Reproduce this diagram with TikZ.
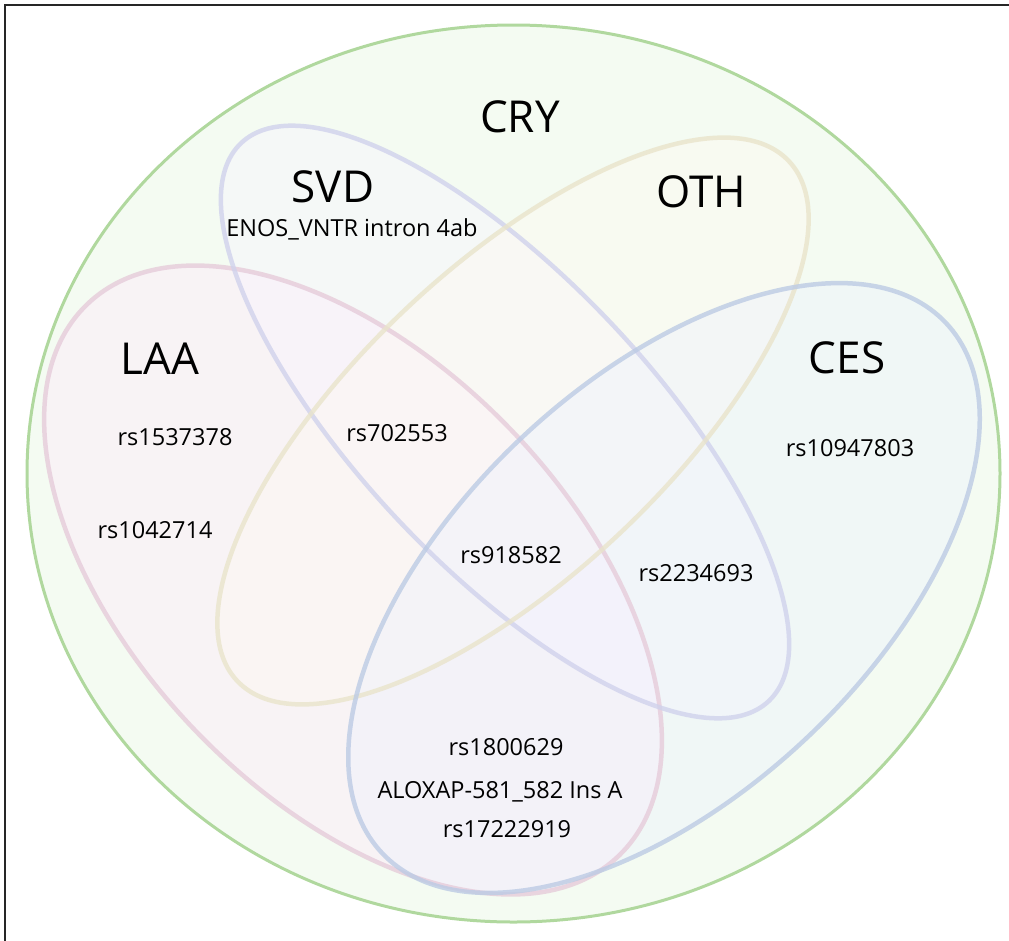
\documentclass[tikz,border=0pt]{standalone}
\usepackage{fontspec}
\setmainfont{Open Sans}
\definecolor{cryline}{RGB}{176,216,158}
\definecolor{cryfill}{RGB}{244,251,242}
\definecolor{laaline}{RGB}{230,204,218}
\definecolor{laafill}{RGB}{255,232,250}
\definecolor{svdline}{RGB}{208,210,236}
\definecolor{svdfill}{RGB}{248,244,255}
\definecolor{othline}{RGB}{233,228,203}
\definecolor{othfill}{RGB}{255,250,240}
\definecolor{cesline}{RGB}{188,203,228}
\definecolor{cesfill}{RGB}{236,242,254}
\begin{document}
\begin{tikzpicture}[x=1pt,y=-1pt,
	setlabel/.style={anchor=base, inner sep=0pt, font=\fontsize{44}{44}\selectfont},
	snplabel/.style={anchor=base, inner sep=0pt, font=\fontsize{23.5}{24}\selectfont},
	setline/.style={line width=4.5pt, draw opacity=0.8},
	setfill/.style={fill opacity=0.4}]
	\useasboundingbox (0,0) rectangle (1009,940);
	\clip (0,0) rectangle (1009,940);
	\draw[line width=2.5pt, black!85] (5,960) -- (5,5) -- (1030,5);
	\filldraw[fill=cryfill, draw=cryline, line width=3pt] (513.5,473.5) ellipse [x radius=486.5, y radius=448.5];
	\fill[laafill, setfill, rotate around={-46:(353,580)}]		(353,580) ellipse [x radius=383, y radius=218];
	\fill[svdfill, setfill, rotate around={-46.6:(505,422)}]	(505,422) ellipse [x radius=384, y radius=145];
	\fill[othfill, setfill, rotate around={43.3:(513,421)}]		(513,421) ellipse [x radius=379, y radius=155];
	\fill[cesfill, setfill, rotate around={43.2:(664,588)}]		(664,588) ellipse [x radius=387, y radius=207];
	\draw[laaline, setline, rotate around={-46:(353,580)}]		(353,580) ellipse [x radius=383, y radius=218];
	\draw[svdline, setline, rotate around={-46.6:(505,422)}]	(505,422) ellipse [x radius=384, y radius=145];
	\draw[othline, setline, rotate around={43.3:(513,421)}]		(513,421) ellipse [x radius=379, y radius=155];
	\draw[cesline, setline, rotate around={43.2:(664,588)}]		(664,588) ellipse [x radius=387, y radius=207];
	\node (CRY) at (520,132)	[setlabel]	{CRY};
	\node (SVD) at (333,202)	[setlabel]	{SVD};
	\node (OTH) at (701,207)	[setlabel]	{OTH};
	\node (LAA) at (160,374)	[setlabel]	{LAA};
	\node (CES) at (847,373)	[setlabel]	{CES};
	\node (enos) at (352,236)	[snplabel]	{ENOS\_VNTR intron 4ab};
	\node (rsA) at (175,445)	[snplabel]	{rs1537378};
	\node (rsB) at (155,538)	[snplabel]	{rs1042714};
	\node (rsC) at (397,441)	[snplabel]	{rs702553};
	\node (rsD) at (511,563)	[snplabel]	{rs918582};
	\node (rsE) at (696,581)	[snplabel]	{rs2234693};
	\node (rsF) at (850,456)	[snplabel]	{rs10947803};
	\node (rsG) at (506,755)	[snplabel]	{rs1800629};
	\node (alox) at (500,798)	[snplabel]	{ALOXAP-581\_582 Ins A};
	\node (rsH) at (507,837)	[snplabel]	{rs17222919};
\end{tikzpicture}
\end{document}
